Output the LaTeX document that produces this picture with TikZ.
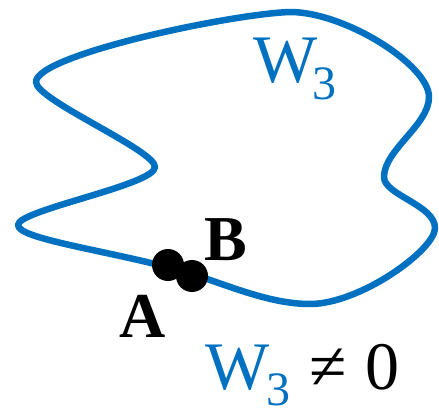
\documentclass[tikz,border=0pt]{standalone}
\usepackage{fontspec}
\setmainfont{Liberation Serif}
\definecolor{wblue}{HTML}{0070C0}
\tikzset{
  loopline/.style={draw=wblue, line width=6.5pt, line join=round},
  dotnode/.style={circle, fill=black, minimum size=32pt, inner sep=0pt},
  biglabel/.style={inner sep=0pt, anchor=base, font=\fontsize{64}{64}\selectfont\bfseries},
  wlabel/.style={inner sep=0pt, anchor=base, text=wblue, font=\fontsize{68}{68}\selectfont},
  sublabel/.style={inner sep=0pt, anchor=base, text=wblue, font=\fontsize{48}{48}\selectfont},
  eqlabel/.style={inner sep=0pt, anchor=base, font=\fontsize{68}{68}\selectfont}
}
\begin{document}
\begin{tikzpicture}[x=1pt,y=-1pt]
\useasboundingbox (0,0) rectangle (439,409);
\draw[loopline]
 (290,12) .. controls (345,12) and (429,65) .. (429,97)
 .. controls (429,125) and (384,150) .. (384,177)
 .. controls (384,195) and (435,205) .. (435,228)
 .. controls (435,250) and (360,304) .. (310,304)
 .. controls (270,304) and (230,286) .. (192,274)
 .. controls (120,252) and (18,240) .. (18,225)
 .. controls (18,210) and (155,185) .. (155,167)
 .. controls (155,150) and (36,100) .. (36,82)
 .. controls (36,55) and (230,14) .. cycle;
\node[dotnode] (a) at (168,265) {};
\node[dotnode] (b) at (192,276) {};
\node[biglabel] (la) at (143,337) {A};
\node[biglabel] (lb) at (226,260) {B};
\node[wlabel] (w3) at (286,83) {W};
\node[sublabel] (w3s) at (324,100) {3};
\node[wlabel] (w3b) at (238,389) {W};
\node[sublabel] (w3bs) at (278,405) {3};
\node[eqlabel] (neq) at (328,389) {≠};
\node[eqlabel] (zero) at (382,389) {0};
\end{tikzpicture}
\end{document}
